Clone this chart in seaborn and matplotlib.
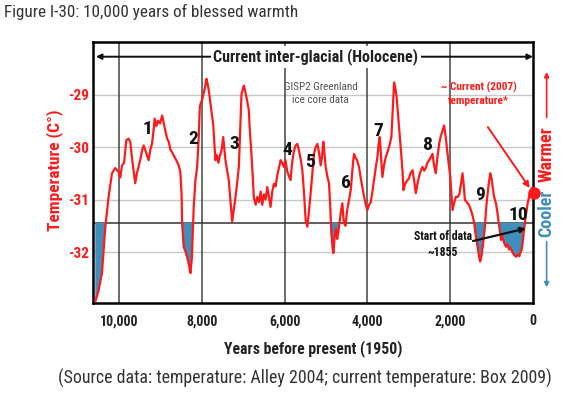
import numpy as np
import pandas as pd
import matplotlib
matplotlib.use("Agg")
import matplotlib.pyplot as plt
import seaborn as sns
from matplotlib import font_manager

# GISP2 temperature reconstruction, years before 1950
years = [10575, 10500, 10413, 10333, 10253, 10172, 10092, 10040, 10010, 9970,
         9930, 9880, 9825, 9770, 9730, 9690, 9650, 9610, 9570, 9490,
         9440, 9405, 9370, 9330, 9285, 9245, 9205, 9170, 9140, 9100,
         9060, 9010, 8960, 8920, 8880, 8840, 8800, 8760, 8720, 8680,
         8640, 8600, 8560, 8520, 8490, 8477, 8440, 8400, 8357, 8310,
         8276, 8240, 8197, 8155, 8115, 8080, 8050, 8020, 7995, 7950,
         7920, 7890, 7860, 7833, 7780, 7727, 7700, 7672, 7640, 7600,
         7560, 7520, 7485, 7455, 7430, 7390, 7350, 7310, 7267, 7230,
         7187, 7150, 7107, 7070, 7042, 7010, 6986, 6950, 6910, 6866,
         6840, 6808, 6775, 6745, 6700, 6660, 6620, 6580, 6540, 6500,
         6460, 6420, 6380, 6340, 6300, 6260, 6220, 6180, 6140, 6098,
         6060, 6018, 5980, 5936, 5900, 5856, 5820, 5780, 5740, 5694,
         5660, 5620, 5573, 5530, 5493, 5452, 5410, 5372, 5330, 5291,
         5250, 5210, 5170, 5130, 5100, 5065, 5040, 5009, 4970, 4929,
         4900, 4872, 4845, 4823, 4790, 4760, 4730, 4700, 4646, 4605,
         4585, 4565, 4530, 4490, 4444, 4400, 4360, 4324, 4290, 4250,
         4203, 4160, 4122, 4080, 4040, 4001, 3960, 3920, 3880, 3840,
         3800, 3759, 3730, 3703, 3670, 3638, 3600, 3560, 3501, 3460,
         3420, 3390, 3356, 3320, 3291, 3235, 3178, 3150, 3129, 3090,
         3050, 3000, 2960, 2911, 2870, 2831, 2790, 2750, 2710, 2670,
         2630, 2590, 2550, 2509, 2470, 2428, 2390, 2350, 2310, 2267,
         2230, 2190, 2147, 2110, 2081, 2040, 2000, 1970, 1944, 1900,
         1864, 1820, 1780, 1740, 1703, 1670, 1646, 1600, 1550, 1501,
         1460, 1421, 1380, 1340, 1300, 1275, 1240, 1200, 1162, 1140,
         1113, 1070, 1033, 1000, 975, 940, 895, 860, 815, 790,
         774, 740, 700, 653, 620, 580, 540, 500, 460, 411,
         370, 330, 300, 274, 245, 226, 180, 129, 80, 30]
temps = [-32.94, -32.75, -32.40, -31.52, -30.95, -30.50, -30.40, -30.45, -30.47, -30.58,
         -30.35, -30.30, -29.87, -29.84, -29.90, -30.19, -30.45, -30.69, -30.50, -30.25,
         -30.05, -29.97, -30.05, -30.15, -30.25, -30.05, -29.94, -29.70, -29.46, -29.60,
         -29.50, -29.55, -29.40, -29.55, -29.70, -29.84, -29.90, -30.05, -30.10, -30.16,
         -30.22, -30.28, -30.35, -30.47, -30.90, -31.45, -31.90, -31.98, -32.09, -32.25,
         -32.40, -32.10, -31.14, -30.63, -30.38, -29.90, -29.24, -29.15, -29.11, -28.95,
         -28.85, -28.70, -28.80, -28.92, -29.25, -29.56, -29.90, -30.25, -30.15, -30.30,
         -30.15, -30.05, -29.81, -30.05, -30.25, -30.45, -30.63, -31.00, -31.42, -31.20,
         -30.95, -30.70, -30.38, -29.60, -28.99, -28.90, -28.83, -28.95, -29.10, -29.30,
         -29.70, -30.06, -30.50, -30.95, -31.10, -30.95, -31.05, -30.85, -31.10, -30.90,
         -31.00, -30.76, -30.95, -31.14, -30.85, -30.70, -30.75, -30.55, -30.40, -30.25,
         -30.30, -30.38, -30.25, -30.47, -30.55, -30.63, -30.30, -30.10, -29.98, -29.94,
         -30.05, -30.20, -30.44, -30.90, -31.39, -31.52, -31.20, -30.88, -30.50, -30.13,
         -30.00, -29.94, -30.10, -30.35, -30.20, -29.90, -30.10, -30.38, -30.55, -30.69,
         -31.10, -31.64, -31.90, -32.02, -31.70, -31.55, -31.75, -31.60, -31.26, -31.07,
         -31.30, -31.45, -31.50, -31.20, -31.01, -30.80, -30.40, -30.13, -30.20, -30.25,
         -30.38, -30.60, -30.76, -30.95, -31.10, -31.20, -31.10, -31.05, -30.85, -30.63,
         -30.40, -30.19, -29.95, -29.81, -30.20, -30.57, -30.35, -30.20, -30.06, -29.95,
         -29.80, -29.30, -28.77, -28.90, -29.08, -29.62, -30.19, -30.50, -30.82, -30.70,
         -30.65, -30.60, -30.50, -30.44, -30.65, -30.88, -30.70, -30.55, -30.45, -30.38,
         -30.45, -30.40, -30.30, -30.25, -30.20, -30.13, -30.35, -30.50, -30.20, -29.94,
         -29.80, -29.70, -29.59, -29.80, -30.00, -30.30, -30.55, -30.90, -31.20, -31.05,
         -30.95, -30.95, -30.90, -30.70, -30.50, -30.75, -31.01, -31.05, -31.10, -31.20,
         -31.30, -31.45, -31.70, -31.90, -32.10, -32.18, -32.05, -31.80, -31.52, -31.25,
         -31.01, -30.70, -30.50, -30.60, -30.76, -30.95, -31.07, -31.25, -31.52, -31.65,
         -31.77, -31.70, -31.82, -31.90, -31.85, -31.95, -31.92, -32.00, -32.05, -32.09,
         -32.05, -32.08, -32.00, -31.96, -31.80, -31.64, -31.35, -31.07, -30.90, -30.78]

baseline = -31.44              # dark reference line, blue fill below it
current_year = -20             # red dot "current (2007) temperature"
current_temp = -30.87

event_labels = ["1", "2", "3", "4", "5", "6", "7", "8", "9", "10"]
event_years = [9320, 8215, 7215, 5937, 5389, 4525, 3744, 2549, 1275, 355]
event_temps = [-29.66, -29.84, -29.95, -30.06, -30.28, -30.69, -29.70, -29.97, -30.92, -31.30]

x_ticks = [10000, 8000, 6000, 4000, 2000, 0]
x_tick_labels = ["10,000", "8,000", "6,000", "4,000", "2,000", "0"]
y_ticks = [-29, -30, -31, -32]
y_tick_labels = ["-29", "-30", "-31", "-32"]

df = pd.DataFrame({"year": years, "temp": temps})

sns.set_style("white")
# narrow sans, like the Arial Narrow of the original slide
avail = {f.name for f in font_manager.fontManager.ttflist}
narrow = next((n for n in ["Roboto Condensed", "Asap Condensed", "Barlow Semi Condensed",
                           "Liberation Sans"] if n in avail), "DejaVu Sans")
plt.rcParams["font.family"] = [narrow, "DejaVu Sans"]

RED = "#ff1a1a"
BLUE = "#3f8fba"

fig = plt.figure(figsize=(5.68, 4.04), dpi=100)
ax = fig.add_axes([93 / 568, 1 - 303 / 404, 440 / 568, 261 / 404])

# grid
for yt in y_ticks:
    ax.axhline(yt, color="#c8c8c8", lw=1.0, zorder=1)
for xt in x_ticks[:-1]:
    ax.axvline(xt, color="#444444", lw=1.1, zorder=1)
ax.axhline(baseline, color="#333333", lw=1.1, zorder=1)

y = np.array(temps)
ax.fill_between(years, y, baseline, where=y < baseline, interpolate=True,
                color=BLUE, lw=0, zorder=2)
sns.lineplot(data=df, x="year", y="temp", color=RED, lw=1.6, ax=ax, zorder=3)

ax.plot([current_year], [current_temp], "o", color=RED, ms=8, clip_on=False, zorder=5)

ax.set_xlim(10630, 0)
ax.set_ylim(-32.97, -28.0)

for sp in ax.spines.values():
    sp.set_color("black")
    sp.set_linewidth(1.8)

ax.set_xticks(x_ticks)
ax.set_xticklabels(x_tick_labels, fontsize=10, fontweight="bold", color="#222222")
ax.set_yticks(y_ticks)
ax.set_yticklabels(y_tick_labels, fontsize=11, fontweight="bold", color=RED)
ax.tick_params(axis="x", length=0, pad=8)
ax.tick_params(axis="y", length=0, pad=3)

ax.set_xlabel("Years before present (1950)", fontsize=11.3, fontweight="bold", color="#222222")
ax.xaxis.set_label_coords(0.5, -0.142)
ax.set_ylabel("Temperature (C°)", fontsize=12.5, fontweight="bold", color=RED)
ax.yaxis.set_label_coords(-0.068, 0.51)

# event numbers
for lab, ex, ey in zip(event_labels, event_years, event_temps):
    ax.text(ex, ey, lab, fontsize=14, fontweight="bold", color="#111111",
            ha="center", va="center", zorder=6)

# Holocene double arrow
ax.annotate("", xy=(10560, -28.28), xytext=(0, -28.28),
            arrowprops=dict(arrowstyle="<|-|>", color="#111111", lw=1.4,
                            mutation_scale=8, shrinkA=0, shrinkB=0), zorder=4)
ax.text(5250, -28.28, "Current inter-glacial (Holocene)", fontsize=11.6, fontweight="bold",
        color="#222222", ha="center", va="center", zorder=5,
        bbox=dict(boxstyle="square,pad=0.15", fc="white", ec="none"))

ax.text(5130, -28.98, "GISP2 Greenland\nice core data", fontsize=8, color="#555555",
        ha="center", va="center", linespacing=1.35, zorder=5)

ax.text(1310, -28.99, "~ Current (2007)\ntemperature*", fontsize=8.2, fontweight="bold",
        color=RED, ha="center", va="center", linespacing=1.45, zorder=5)
ax.annotate("", xy=(80, -30.78), xytext=(1090, -29.62),
            arrowprops=dict(arrowstyle="-|>", color=RED, lw=1.4, mutation_scale=9,
                            shrinkA=0, shrinkB=0), zorder=5)

ax.text(2180, -31.86, "Start of data\n~1855", fontsize=8.5, fontweight="bold",
        color="#111111", ha="center", va="center", linespacing=1.3, zorder=6)
ax.annotate("", xy=(170, -31.55), xytext=(1450, -31.79),
            arrowprops=dict(arrowstyle="-|>", color="#111111", lw=1.6, mutation_scale=8,
                            shrinkA=0, shrinkB=0), zorder=6)

# Warmer / Cooler side key
tx = 1.031
ax.annotate("", xy=(tx, 0.885), xytext=(tx, 0.71), xycoords="axes fraction",
            arrowprops=dict(arrowstyle="-|>", color=RED, lw=1.2, mutation_scale=7,
                            shrinkA=0, shrinkB=0), annotation_clip=False)
ax.text(tx, 0.571, "Warmer", transform=ax.transAxes, rotation=90, fontsize=13,
        fontweight="bold", color=RED, ha="center", va="center")
ax.text(tx, 0.345, "Cooler", transform=ax.transAxes, rotation=90, fontsize=13,
        fontweight="bold", color=BLUE, ha="center", va="center")
ax.annotate("", xy=(tx, 0.06), xytext=(tx, 0.235), xycoords="axes fraction",
            arrowprops=dict(arrowstyle="-|>", color=BLUE, lw=1.2, mutation_scale=7,
                            shrinkA=0, shrinkB=0), annotation_clip=False)

fig.text(4 / 568, 1 - 12 / 404, "Figure I-30: 10,000 years of blessed warmth",
         fontsize=12.3, color="#333333", ha="left", va="center")
fig.text(58 / 568, 1 - 378 / 404,
         "(Source data: temperature: Alley 2004; current temperature: Box 2009)",
         fontsize=12.9, color="#333333", ha="left", va="center")

fig.savefig("out.png", dpi=100)
